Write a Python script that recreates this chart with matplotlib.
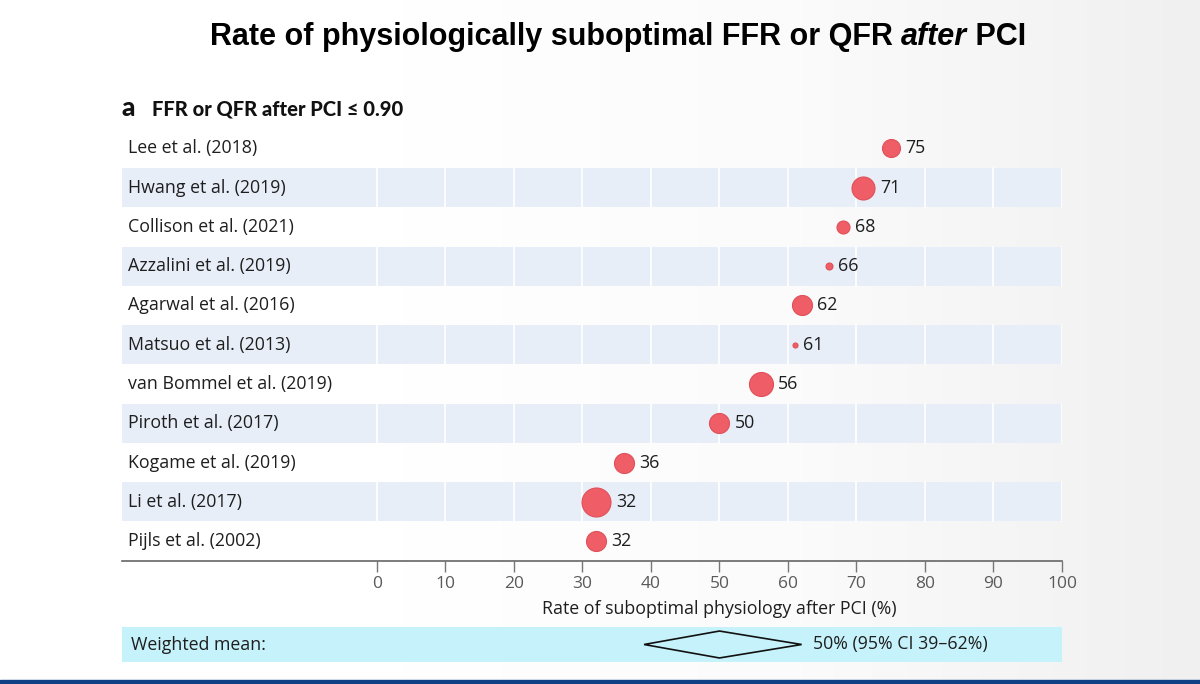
import numpy as np
import matplotlib
matplotlib.use("Agg")
import matplotlib.pyplot as plt
import matplotlib.transforms as mtransforms
from matplotlib.colors import LinearSegmentedColormap

studies = [
    "Lee et al. (2018)", "Hwang et al. (2019)", "Collison et al. (2021)",
    "Azzalini et al. (2019)", "Agarwal et al. (2016)", "Matsuo et al. (2013)",
    "van Bommel et al. (2019)", "Piroth et al. (2017)", "Kogame et al. (2019)",
    "Li et al. (2017)", "Pijls et al. (2002)",
]
rates = [75, 71, 68, 66, 62, 61, 56, 50, 36, 32, 32]
# relative study weight (bubble diameter)
weights = [18, 23, 13, 7, 20, 5, 24, 20, 20, 29, 20]

mean_rate = 50
ci_low, ci_high = 39, 62
mean_label = "50% (95% CI 39\u201362%)"

xticks = [0, 10, 20, 30, 40, 50, 60, 70, 80, 90, 100]

FONT = "Open Sans"
DOT = "#ef5d66"
BAND = "#e7eef8"
TXT = "#1e1e1e"
FS = 12.8

W, H = 1200, 684
fig = plt.figure(figsize=(12, 6.84), dpi=100)

# soft background gradient
bg = fig.add_axes([0, 0, 1, 1], zorder=-10)
grad = np.tile(np.linspace(0, 1, 256), (10, 1))
cmap = LinearSegmentedColormap.from_list("bg", ["#ffffff", "#ffffff", "#fbfbfb", "#f0f0f0"])
bg.imshow(grad, aspect="auto", cmap=cmap, extent=[0, 1, 0, 1])
bg.axhspan(0, 4 / H, color="#0f3f85")
bg.set_xlim(0, 1)
bg.set_ylim(0, 1)
bg.axis("off")

# main forest-style axes
x_left = -37.2
ax = fig.add_axes([122 / W, (H - 560.7) / H, 940 / W, 432 / H])
ax.set_facecolor("none")
n = len(studies)
ax.set_xlim(x_left, 100)
ax.set_ylim(n - 0.5, -0.5)
ytrans = mtransforms.blended_transform_factory(ax.transAxes, ax.transData)

for i in range(n):
    if i % 2 == 1:
        ax.axhspan(i - 0.5, i + 0.5, color=BAND, lw=0, zorder=0)
        for t in xticks:
            ax.plot([t, t], [i - 0.5, i + 0.5], color="white", lw=1.2, zorder=1)

for i, (name, r, w) in enumerate(zip(studies, rates, weights)):
    ax.text(0.0065, i, name, transform=ytrans, ha="left", va="center",
            fontsize=FS, family=FONT, color=TXT)
    ax.scatter(r, i, s=(w * 0.72) ** 2, color=DOT, edgecolor="#e0505a", lw=0.8, zorder=3)
    ax.annotate(str(r), (r, i), xytext=(w * 0.72 / 2 + 4, 0), textcoords="offset points",
                ha="left", va="center", fontsize=FS, family=FONT, color=TXT)

for s in ["top", "right", "left"]:
    ax.spines[s].set_visible(False)
ax.spines["bottom"].set_color("#666666")
ax.spines["bottom"].set_linewidth(1.2)
ax.set_yticks([])
ax.set_xticks(xticks)
ax.tick_params(axis="x", length=8, width=1, color="#777777", labelcolor="#5a5a5a",
               labelsize=12.5, pad=3)
for lab in ax.get_xticklabels():
    lab.set_family(FONT)
ax.set_xlabel("Rate of suboptimal physiology after PCI (%)", fontsize=FS,
              family=FONT, color=TXT)
ax.xaxis.set_label_coords((50 - x_left) / (100 - x_left), -0.09)

# weighted mean box
mx = fig.add_axes([122 / W, (H - 662) / H, 940 / W, 35 / H])
mx.set_facecolor("#c6f3fb")
mx.set_xlim(x_left, 100)
mx.set_ylim(-1.3, 1.3)
mx.fill([ci_low, mean_rate, ci_high, mean_rate], [0, 1, 0, -1], facecolor="none",
        edgecolor="#111111", lw=1.2)
mx.text(ci_high + 1.6, 0, mean_label, ha="left", va="center", fontsize=FS,
        family=FONT, color=TXT)
mx.text(0.01, 0, "Weighted mean:",
        transform=mtransforms.blended_transform_factory(mx.transAxes, mx.transData),
        ha="left", va="center", fontsize=FS, family=FONT, color=TXT)
mx.set_xticks([])
mx.set_yticks([])
for s in mx.spines.values():
    s.set_visible(False)

# title with italic "after"
parts = [("Rate of physiologically suboptimal FFR or QFR ", "normal"),
         ("after", "italic"), (" PCI", "normal")]
texts = [fig.text(0, 1 - 45 / H, txt, fontsize=22, fontweight="bold", style=style,
                  family="Liberation Sans", ha="left", va="baseline")
         for txt, style in parts]
fig.canvas.draw()
rend = fig.canvas.get_renderer()
widths = [t.get_window_extent(rend).width for t in texts]
x0 = 618 - sum(widths) / 2
for t, w in zip(texts, widths):
    t.set_x(x0 / W)
    x0 += w

# panel subtitle
fig.text(121 / W, 1 - 116 / H, "a", fontsize=19, fontweight="black", family="Lato",
         ha="left", va="baseline", color="#111111")
fig.text(152 / W, 1 - 116 / H, "FFR or QFR after PCI \u2264 0.90", fontsize=14.5,
         fontweight="black", family="Lato", ha="left", va="baseline", color="#111111")

fig.savefig("out.png", dpi=100)
